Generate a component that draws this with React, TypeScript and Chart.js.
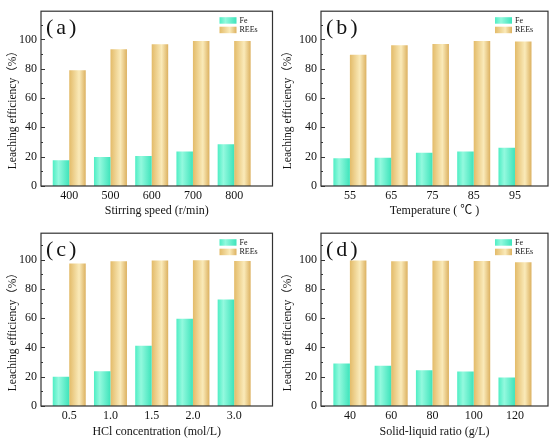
import React, { useEffect, useRef } from 'react'
import { Chart, registerables } from 'chart.js'

Chart.register(...registerables)

const seriesNames = ['Fe', 'REEs']

const speedLabels = ['400', '500', '600', '700', '800']
const speedFe = [17.5, 19.7, 20.4, 23.6, 28.5]
const speedREEs = [79.0, 93.2, 96.7, 98.8, 98.8]

const tempLabels = ['55', '65', '75', '85', '95']
const tempFe = [18.9, 19.3, 22.7, 23.6, 26.0]
const tempREEs = [89.5, 95.9, 96.9, 98.8, 98.6]

const hclLabels = ['0.5', '1.0', '1.5', '2.0', '3.0']
const hclFe = [20.0, 23.7, 41.2, 59.6, 72.8]
const hclREEs = [97.3, 98.9, 99.3, 99.5, 99.1]

const ratioLabels = ['40', '60', '80', '100', '120']
const ratioFe = [29.0, 27.5, 24.4, 23.6, 19.4]
const ratioREEs = [99.3, 98.9, 99.2, 99.1, 98.1]

const yMajorTicks = [0, 20, 40, 60, 80, 100]
const yTitle = 'Leaching efficiency（%）'

const FE_SHADE: [number, string][] = [[0, '#4eeec4'], [0.35, '#93f9de'], [1, '#3ee4bb']]
const REE_SHADE: [number, string][] = [[0, '#e3bb69'], [0.6, '#faeab9'], [1, '#dcb160']]

const SERIF = '"Liberation Serif", "Times New Roman", "Noto Sans CJK SC", serif'
const INK = '#141414'

interface Box { left: number; right: number; top: number; bottom: number }

interface PanelProps {
  tag: string
  xTitle: string
  labels: string[]
  fe: number[]
  rees: number[]
  width: number
  height: number
  box: Box
  xRange: [number, number]
  yMax: number
}

function shade(ctx: CanvasRenderingContext2D, x0: number, x1: number, stops: [number, string][]) {
  const g = ctx.createLinearGradient(x0, 0, x1, 0)
  stops.forEach(([o, c]) => g.addColorStop(o, c))
  return g
}

function Panel({ tag, xTitle, labels, fe, rees, width, height, box, xRange, yMax }: PanelProps) {
  const canvasRef = useRef<HTMLCanvasElement>(null)
  const chartRef = useRef<Chart | null>(null)

  useEffect(() => {
    if (!canvasRef.current) return
    chartRef.current?.destroy()

    const panelPlugin = {
      id: 'panel',
      afterDatasetsUpdate(chart: any) {
        const ctx = chart.ctx
        chart.data.datasets.forEach((ds: any, di: number) => {
          chart.getDatasetMeta(di).data.forEach((el: any) => {
            const g = shade(ctx, el.x - el.width / 2, el.x + el.width / 2, ds.shade)
            el.options = { ...el.options, backgroundColor: g }
          })
        })
      },
      afterDraw(chart: any) {
        const { ctx, chartArea: a, scales } = chart
        const ys = scales.y
        ctx.save()
        // frame
        ctx.strokeStyle = '#333'
        ctx.lineWidth = 1.2
        ctx.strokeRect(a.left, a.top, a.right - a.left, a.bottom - a.top)
        // inward ticks on the left axis
        ctx.lineWidth = 1
        yMajorTicks.forEach(v => {
          const y = Math.round(ys.getPixelForValue(v)) + 0.5
          ctx.beginPath(); ctx.moveTo(a.left, y); ctx.lineTo(a.left + 4, y); ctx.stroke()
          const ym = Math.round(ys.getPixelForValue(v + 10)) + 0.5
          ctx.beginPath(); ctx.moveTo(a.left, ym); ctx.lineTo(a.left + 2, ym); ctx.stroke()
        })
        // legend
        const lx = a.right - 53
        chart.data.datasets.forEach((ds: any, i: number) => {
          const ly = a.top + 6 + i * 9.5
          ctx.fillStyle = shade(ctx, lx, lx + 17, ds.shade)
          ctx.fillRect(lx, ly, 17, 6.5)
          ctx.fillStyle = INK
          ctx.font = `8px ${SERIF}`
          ctx.textBaseline = 'middle'
          ctx.textAlign = 'left'
          ctx.fillText(ds.label, lx + 20, ly + 3.5)
        })
        // panel tag
        ctx.fillStyle = INK
        ctx.font = `22px ${SERIF}`
        ctx.textBaseline = 'alphabetic'
        ;(ctx as any).letterSpacing = '3px'
        ctx.fillText(`(${tag})`, a.left + 5, a.top + 23)
        ;(ctx as any).letterSpacing = '0px'
        // y title
        ctx.translate(13, a.top + 158)
        ctx.rotate(-Math.PI / 2)
        ctx.font = `11.5px ${SERIF}`
        ctx.textBaseline = 'middle'
        ctx.fillText(yTitle, 0, 0)
        ctx.restore()
      },
    }

    chartRef.current = new Chart(canvasRef.current, {
      type: 'bar',
      data: {
        datasets: [
          { label: seriesNames[0], data: fe.map((y, i) => ({ x: i, y })), shade: FE_SHADE } as any,
          { label: seriesNames[1], data: rees.map((y, i) => ({ x: i, y })), shade: REE_SHADE } as any,
        ],
      },
      options: {
        animation: false,
        responsive: false,
        events: [],
        layout: { padding: { top: box.top, right: width - box.right, left: 0, bottom: 0 } },
        datasets: { bar: { categoryPercentage: 0.8, barPercentage: 1 } },
        plugins: { legend: { display: false }, tooltip: { enabled: false } },
        scales: {
          x: {
            type: 'linear',
            min: xRange[0],
            max: xRange[1],
            offset: false,
            grid: { display: false, drawTicks: false, tickLength: 0 },
            border: { display: false },
            afterBuildTicks: (s: any) => { s.ticks = labels.map((_, i) => ({ value: i })) },
            afterFit: (s: any) => { s.height = height - box.bottom },
            ticks: {
              callback: (v: any) => labels[v] ?? '',
              font: { family: SERIF, size: 12 },
              color: INK,
              padding: 3,
              maxRotation: 0,
              autoSkip: false,
            },
            title: {
              display: true,
              text: xTitle,
              font: { family: SERIF, size: 12 },
              color: INK,
              padding: { top: 0, bottom: 4 },
            },
          },
          y: {
            min: 0,
            max: yMax,
            grid: { display: false, drawTicks: false, tickLength: 0 },
            border: { display: false },
            afterBuildTicks: (s: any) => { s.ticks = yMajorTicks.map(v => ({ value: v })) },
            afterFit: (s: any) => { s.width = box.left },
            ticks: { font: { family: SERIF, size: 12 }, color: INK, padding: 4 },
          },
        },
      } as any,
      plugins: [panelPlugin],
    })

    return () => {
      chartRef.current?.destroy()
      chartRef.current = null
    }
  }, [])

  return <canvas ref={canvasRef} width={width} height={height} style={{ display: 'block' }} />
}

export default function App() {
  return (
    <div style={{ position: 'absolute', left: 0, top: 0, width: 550, height: 443, background: '#fff' }}>
      <div style={{ display: 'flex' }}>
        <Panel tag="a" xTitle="Stirring speed (r/min)" labels={speedLabels} fe={speedFe} rees={speedREEs}
          width={275} height={222} box={{ left: 41, right: 272.5, top: 5, bottom: 186 }} xRange={[-0.685, 4.93]} yMax={119.2} />
        <Panel tag="b" xTitle="Temperature ( ℃ )" labels={tempLabels} fe={tempFe} rees={tempREEs}
          width={275} height={222} box={{ left: 46, right: 273, top: 5, bottom: 186 }} xRange={[-0.7, 4.8]} yMax={119.2} />
      </div>
      <div style={{ display: 'flex' }}>
        <Panel tag="c" xTitle="HCl concentration (mol/L)" labels={hclLabels} fe={hclFe} rees={hclREEs}
          width={275} height={221} box={{ left: 41, right: 272.5, top: 5, bottom: 184 }} xRange={[-0.685, 4.93]} yMax={118} />
        <Panel tag="d" xTitle="Solid-liquid ratio (g/L)" labels={ratioLabels} fe={ratioFe} rees={ratioREEs}
          width={275} height={221} box={{ left: 46, right: 273, top: 5, bottom: 184 }} xRange={[-0.7, 4.8]} yMax={118} />
      </div>
    </div>
  )
}
